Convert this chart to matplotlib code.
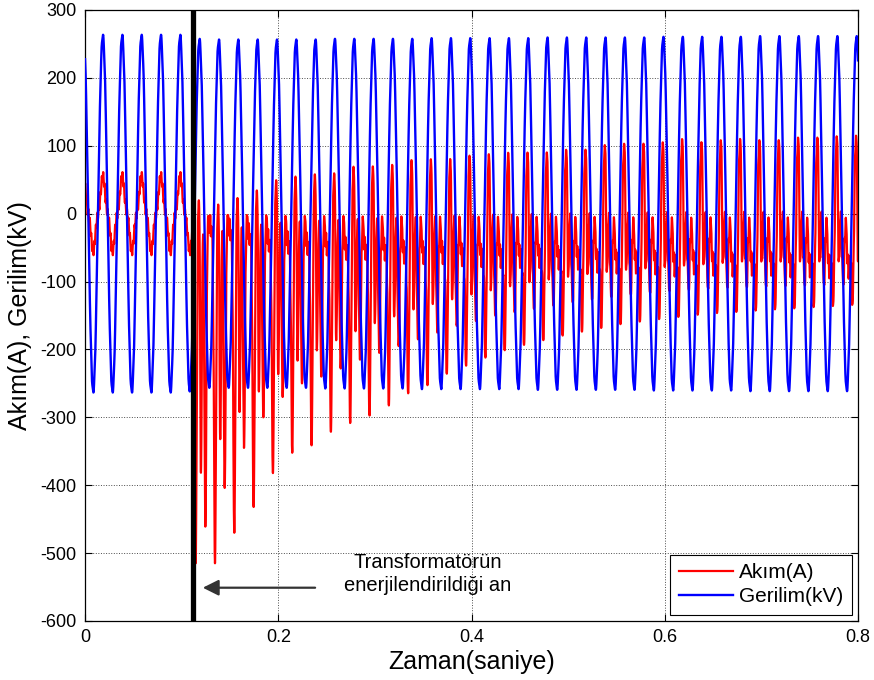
import numpy as np
import matplotlib.pyplot as plt

plt.rcParams['font.family'] = ['Liberation Sans', 'DejaVu Sans']
plt.rcParams['axes.unicode_minus'] = False

"""zaman bilgileri"""

f = 50.0
t_son = 0.8
t_tepe = 0.0184      # gerilimin ilk tepe noktasi
t_enerji = 0.1114    # transformatorun enerjilendirildigi an
t_ani = 0.1145       # ilk buyuk negatif ani

"""okunan degerler"""

# gerilim tepe degerleri (kV), her periyot icin
gerilim_tepe = [262, 262, 262, 262, 262, 256, 255, 255, 255, 255,
                255, 255, 256, 256, 256, 256, 256, 257, 257, 257,
                257, 257, 257, 258, 258, 258, 258, 258, 258, 259,
                259, 259, 259, 259, 260, 260, 260, 260, 260, 260]

# enerjilenmeden once akim tepe degeri (A)
akim_bos_tepe = 55

# enerjilenmeden sonra her periyodun pozitif tepesi (A)
akim_pozitif = [40, 32, 41, 52, 67, 72, 75, 76, 86, 86,
                88, 95, 96, 96, 101, 103, 105, 105, 105, 109,
                109, 116, 118, 118, 120, 125, 120, 123, 125, 123,
                123, 127, 127, 129, 130]

# her periyottaki buyuk negatif ani (A)
akim_negatif = [-515, -515, -470, -432, -382, -352, -341, -321, -308, -297,
                -282, -264, -252, -235, -223, -211, -200, -192, -185, -178,
                -172, -166, -160, -156, -152, -148, -145, -142, -140, -138,
                -136, -134, -132, -130, -128]

# yarim periyot sonraki ikinci negatif ani (A)
akim_negatif2 = [-461, -404, -345, -300, -270, -250, -240, -228, -215, -205,
                 -195, -185, -175, -165, -158, -150, -145, -140, -135, -130,
                 -126, -122, -118, -115, -112, -110, -108, -106, -105, -104,
                 -103, -102, -101, -100, -100]

# ceyrek periyot sonraki ara inisler (A)
akim_negatif3 = [-380, -330, -290, -260, -235, -215, -200, -185, -172, -160,
                 -150, -140, -132, -125, -118, -112, -106, -100, -96, -92,
                 -88, -85, -82, -80, -78, -76, -74, -72, -70, -70,
                 -70, -70, -70, -70, -70]

x_ticks = [0, 0.2, 0.4, 0.6, 0.8]
y_ticks = [-600, -500, -400, -300, -200, -100, 0, 100, 200, 300]


"""dalga sekilleri"""

T = 1.0 / f
w = 2 * np.pi * f
t = np.linspace(0, t_son, 80001)
faz = w * (t - t_tepe)

k_v = np.clip(np.floor((t - t_tepe + T / 2) / T).astype(int), 0, len(gerilim_tepe) - 1)
gerilim = np.array(gerilim_tepe)[k_v] * np.cos(faz) + 3 * np.sin(11 * faz)

# enerjilenmeden once
akim_once = akim_bos_tepe * (0.85 * np.cos(faz) + 0.15 * np.cos(3 * faz)) + 7 * np.sin(13 * faz)

# enerjilenmeden sonra
tp0 = t_tepe + 5 * T
k_i = np.clip(np.round((t - tp0) / T).astype(int), 0, len(akim_pozitif) - 1)
dt = ((t - tp0 + T / 2) % T) - T / 2
dh = ((t - tp0 - 0.009 + T / 2) % T) - T / 2
sekil = (0.45 * np.cos(w * dt) + 0.6 * np.exp(-dt ** 2 / (2 * 0.0015 ** 2))
         + 0.55 * np.exp(-dh ** 2 / (2 * 0.0012 ** 2)) - 0.2)
sekil = sekil / sekil.max()
akim_sonra = np.array(akim_pozitif)[k_i] * sekil
akim_sonra += 10 * np.sin(2 * np.pi * 550 * t) + 7 * np.sin(2 * np.pi * 850 * t + 1)

taban = akim_sonra.copy()
for k in range(len(akim_negatif)):
    anlar = ((t_ani + k * T, akim_negatif[k], 0.0011),
             (t_ani + k * T + T / 2, akim_negatif2[k], 0.0010),
             (t_ani + k * T + 0.0055, akim_negatif3[k], 0.0008))
    for ts, s, sg in anlar:
        if ts > t_son:
            continue
        a = s - np.interp(ts, t, taban)
        akim_sonra += a * np.exp(-(t - ts) ** 2 / (2 * sg ** 2))

akim = np.where(t < t_enerji, akim_once, akim_sonra)


"""cizim"""

fig = plt.figure(figsize=(8.74, 6.8), dpi=100)
ax = fig.add_axes([0.0973, 0.0868, 0.8844, 0.8985])

l1, = ax.plot(t, akim, color='#ff0000', lw=1.6, zorder=2)
l2, = ax.plot(t, gerilim, color='#0000ff', lw=1.7, zorder=3)
ax.axvline(t_enerji, color='k', lw=3.8, zorder=4)

ax.set_xlim(0, t_son)
ax.set_ylim(-600, 300)
ax.set_xticks(x_ticks)
ax.set_xticklabels(['0', '0.2', '0.4', '0.6', '0.8'])
ax.set_yticks(y_ticks)
ax.tick_params(direction='in', top=True, right=True, labelsize=13, length=5, pad=6)
ax.grid(True, linestyle=':', color='k', lw=0.7, alpha=0.7)
for sp in ax.spines.values():
    sp.set_linewidth(0.9)

ax.set_xlabel('Zaman(saniye)', fontsize=18, labelpad=3)
ax.set_ylabel('Akım(A), Gerilim(kV)', fontsize=18, labelpad=6)

ax.annotate('', xy=(0.119, -551), xytext=(0.241, -551),
            arrowprops=dict(arrowstyle='-|>', color='#333333', lw=1.6, mutation_scale=24))
ax.text(0.355, -531, 'Transformatörün\nenerjilendirildiği an', fontsize=14.5,
        ha='center', va='center', linespacing=1.25)

leg = ax.legend([l1, l2], ['Akım(A)', 'Gerilim(kV)'], loc='lower right', fontsize=15,
                fancybox=False, framealpha=1, edgecolor='k', handlelength=2.6,
                handletextpad=0.3, labelspacing=0.25, borderaxespad=0.3)
leg.get_frame().set_linewidth(0.8)

fig.savefig('out.png', dpi=100)
